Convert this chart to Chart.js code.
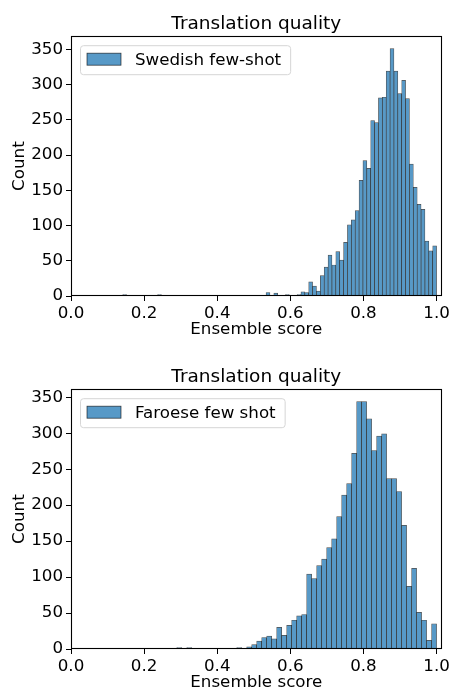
<!DOCTYPE html>
<html>
<head>
<meta charset="utf-8">
<script src="https://cdn.jsdelivr.net/npm/chart.js@4"></script>
<style>
  html, body { margin: 0; padding: 0; background: #fff; overflow: hidden; }
  .panel { position: absolute; left: 0; width: 453px; height: 345px; }
</style>
</head>
<body>
<div class="panel" style="top:0"><canvas id="sweChart" width="453" height="345"></canvas></div>
<div class="panel" style="top:353px"><canvas id="faoChart" width="453" height="345"></canvas></div>
<script>
// histogram bin centres (ensemble score) and counts, empty bins left out
const sweScores = [0.1043, 0.1467, 0.2421, 0.4011, 0.5071, 0.5389, 0.5601, 0.5919,
    0.6131, 0.6237, 0.6343, 0.6449, 0.6555, 0.6661, 0.6767, 0.6873, 0.6979, 0.7085,
    0.7191, 0.7297, 0.7403, 0.7509, 0.7615, 0.7721, 0.7827, 0.7933, 0.8039, 0.8145,
    0.8251, 0.8357, 0.8463, 0.8569, 0.8675, 0.8781, 0.8887, 0.8993, 0.9099, 0.9205,
    0.9311, 0.9417, 0.9523, 0.9629, 0.9735, 0.9841, 0.9947];
const sweCounts = [1, 2, 2, 1, 1, 5, 4, 2,
    1, 2, 6, 5, 20, 14, 7, 29, 41, 58,
    44, 63, 51, 76, 101, 108, 121, 164, 192, 181,
    249, 246, 281, 282, 319, 351, 319, 287, 306, 280,
    187, 154, 130, 123, 78, 64, 71];

const faoScores = [0.29600, 0.32334, 0.43270, 0.44637, 0.46004, 0.47371, 0.48738,
    0.50105, 0.51472, 0.52839, 0.54206, 0.55573, 0.56940, 0.58307, 0.59674, 0.61041,
    0.62408, 0.63775, 0.65142, 0.66509, 0.67876, 0.69243, 0.70610, 0.71977, 0.73344,
    0.74711, 0.76078, 0.77445, 0.78812, 0.80179, 0.81546, 0.82913, 0.84280, 0.85647,
    0.87014, 0.88381, 0.89748, 0.91115, 0.92482, 0.93849, 0.95216, 0.96583, 0.97950,
    0.99317];
const faoCounts = [2, 2, 1, 1, 2, 1, 3,
    6, 11, 16, 18, 14, 30, 19, 33, 40,
    46, 48, 104, 98, 116, 125, 141, 153, 184,
    214, 230, 272, 344, 344, 320, 276, 296, 299,
    237, 237, 219, 172, 87, 112, 51, 40, 12,
    35];

const xTickValues = [0, 0.2, 0.4, 0.6, 0.8, 1.0];
const yTickValues = [0, 50, 100, 150, 200, 250, 300, 350];

const barFill = "rgb(87,153,199)";
const barEdge = "rgba(0,0,0,0.7)";
const fontFamily = '"DejaVu Sans", sans-serif';

Chart.defaults.font.family = fontFamily;
Chart.defaults.color = "#000";

// matplotlib style frame + legend box in the upper left corner
const axesDecor = {
    id: "axesDecor",
    afterDraw(chart, args, opts) {
        const { ctx, chartArea } = chart;
        const a = chartArea;
        ctx.save();
        ctx.strokeStyle = "#000";
        ctx.lineWidth = 1.1;
        ctx.strokeRect(Math.round(a.left) + 0.5, Math.round(a.top) + 0.5,
            Math.round(a.right - a.left) - 1, Math.round(a.bottom - a.top) - 1);

        ctx.font = "16.7px " + fontFamily;
        const tw = ctx.measureText(opts.text).width;
        const bx = a.left + 9, by = a.top + 9;
        const bw = 55 + tw + 9, bh = 29;
        ctx.beginPath();
        ctx.roundRect(bx + 0.5, by + 0.5, bw, bh, 3);
        ctx.fillStyle = "rgba(255,255,255,0.8)";
        ctx.fill();
        ctx.strokeStyle = "#d6d6d6";
        ctx.lineWidth = 1;
        ctx.stroke();

        ctx.fillStyle = barFill;
        ctx.fillRect(bx + 7, by + 8, 34, 12);
        ctx.strokeStyle = barEdge;
        ctx.lineWidth = 0.8;
        ctx.strokeRect(bx + 7, by + 8, 34, 12);

        ctx.fillStyle = "#000";
        ctx.textBaseline = "middle";
        ctx.textAlign = "left";
        ctx.fillText(opts.text, bx + 55, by + bh / 2 + 1);
        ctx.restore();
    }
};

function drawHistogram(canvasId, label, scores, counts) {
    const points = scores.map((s, i) => ({ x: s, y: counts[i] }));
    const yMax = Math.max(...counts) * 1.05;

    new Chart(document.getElementById(canvasId), {
        type: "bar",
        data: {
            datasets: [{
                label: label,
                data: points,
                backgroundColor: barFill,
                borderColor: barEdge,
                borderWidth: 0.7,
                borderSkipped: false,
                barPercentage: 1,
                categoryPercentage: 1
            }]
        },
        options: {
            responsive: false,
            animation: false,
            layout: { padding: { left: 0, right: 11, top: 0, bottom: 0 } },
            plugins: {
                legend: { display: false },
                tooltip: { enabled: false },
                title: {
                    display: true,
                    fullSize: false,
                    text: "Translation quality",
                    color: "#000",
                    font: { size: 18.5, weight: "normal" },
                    padding: { top: 13, bottom: 1 }
                },
                axesDecor: { text: label }
            },
            scales: {
                x: {
                    type: "linear",
                    min: 0,
                    max: 1.0137,
                    offset: false,
                    border: { display: false },
                    grid: { display: true, offset: false, drawOnChartArea: false, drawTicks: true,
                        tickLength: 5, tickColor: "#000", tickWidth: 1 },
                    afterBuildTicks: s => { s.ticks = xTickValues.map(v => ({ value: v })); },
                    ticks: {
                        padding: 3,
                        font: { size: 16.7 },
                        color: "#000",
                        maxRotation: 0,
                        callback: v => v.toFixed(1)
                    },
                    title: {
                        display: true,
                        text: "Ensemble score",
                        color: "#000",
                        font: { size: 16.7 },
                        padding: { top: 0, bottom: 5 }
                    },
                    afterFit: s => { s.height = 49; }
                },
                y: {
                    min: 0,
                    max: yMax,
                    border: { display: false },
                    grid: { display: true, drawOnChartArea: false, drawTicks: true,
                        tickLength: 5, tickColor: "#000", tickWidth: 1 },
                    afterBuildTicks: s => { s.ticks = yTickValues.map(v => ({ value: v })); },
                    ticks: {
                        padding: 3,
                        font: { size: 16.7 },
                        color: "#000"
                    },
                    title: {
                        display: true,
                        text: "Count",
                        color: "#000",
                        font: { size: 16.7 },
                        padding: { top: 10, bottom: 0 }
                    },
                    afterFit: s => { s.width = 71; }
                }
            }
        },
        plugins: [axesDecor]
    });
}

drawHistogram("sweChart", "Swedish few-shot", sweScores, sweCounts);
drawHistogram("faoChart", "Faroese few shot", faoScores, faoCounts);
</script>
</body>
</html>
